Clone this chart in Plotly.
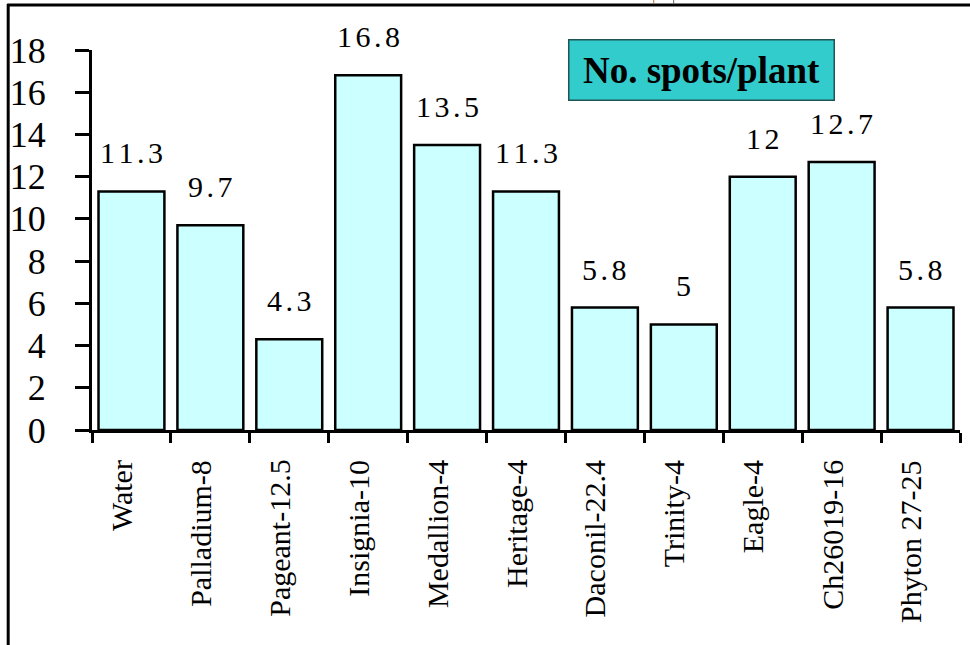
import plotly.graph_objects as go

categories = ["Water", "Palladium-8", "Pageant-12.5", "Insignia-10", "Medallion-4",
              "Heritage-4", "Daconil-22.4", "Trinity-4", "Eagle-4", "Ch26019-16", "Phyton 27-25"]
spots = [11.3, 9.7, 4.3, 16.8, 13.5, 11.3, 5.8, 5.0, 12.0, 12.7, 5.8]
y_ticks = [0, 2, 4, 6, 8, 10, 12, 14, 16, 18]
title_text = "No. spots/plant"

SERIF = "Liberation Serif"
W, H = 970, 645
L, R, T, B = 90, 10, 50, 215
pw, ph = W - L - R, H - T - B

def fmt(v):
    s = f"{v:g}"
    return "<span style='font-size:14px'> </span>".join(s)

fig = go.Figure()
fig.add_trace(go.Bar(
    x=categories, y=spots,
    marker=dict(color="#CCFFFF", line=dict(color="black", width=2.5)),
    cliponaxis=False, showlegend=False,
))

annotations = []
for c, v in zip(categories, spots):
    annotations.append(dict(x=c, y=v, xref="x", yref="y", text=fmt(v), showarrow=False,
                            yanchor="bottom", yshift=20,
                            font=dict(family=SERIF, size=30, color="black")))
for c in categories:
    annotations.append(dict(x=c, y=0, xref="x", yref="y", text=c, showarrow=False,
                            textangle=-90, xanchor="center", yanchor="top",
                            yshift=-28, xshift=-10,
                            font=dict(family=SERIF, size=30, color="black")))

annotations.append(dict(
    x=(701 - L) / pw, y=(H - B - 69.5) / ph, xref="paper", yref="paper",
    text="<b>" + title_text + "</b>", showarrow=False,
    xanchor="center", yanchor="middle", width=262, height=57,
    bgcolor="#33CCCC", bordercolor="#1F5555", borderwidth=1.5,
    font=dict(family=SERIF, size=37, color="black")))

def px(x):
    return (x - L) / pw

def py(y):
    return (H - B - y) / ph

shapes = [
    dict(type="line", xref="paper", yref="paper", x0=px(6), x1=px(6), y0=py(4), y1=py(H + 5),
         line=dict(color="black", width=3)),
    dict(type="line", xref="paper", yref="paper", x0=px(5), x1=px(W + 5), y0=py(5), y1=py(5),
         line=dict(color="black", width=3)),
    dict(type="line", xref="paper", yref="paper", x0=px(653), x1=px(653), y0=py(-2), y1=py(4),
         line=dict(color="#B07040", width=1)),
    dict(type="line", xref="paper", yref="paper", x0=px(673), x1=px(673), y0=py(-2), y1=py(4),
         line=dict(color="#666666", width=1)),
]

fig.update_layout(
    width=W, height=H,
    margin=dict(l=L, r=R, t=T, b=B, pad=0),
    paper_bgcolor="white", plot_bgcolor="white",
    bargap=0.165,
    annotations=annotations, shapes=shapes,
    font=dict(family=SERIF, color="black"),
)
fig.update_xaxes(
    type="category", tickson="boundaries", ticks="outside", ticklen=10, tickwidth=3,
    tickcolor="black", showline=True, linecolor="black", linewidth=3,
    showticklabels=False, showgrid=False, zeroline=False,
)
fig.update_yaxes(
    range=[0, 18], tickvals=y_ticks, ticks="outside", ticklen=14, tickwidth=3,
    tickcolor="black", showline=True, linecolor="black", linewidth=3,
    tickfont=dict(family=SERIF, size=36, color="black"), ticklabelstandoff=22,
    showgrid=False, zeroline=False,
)

fig.write_html("out.html")
